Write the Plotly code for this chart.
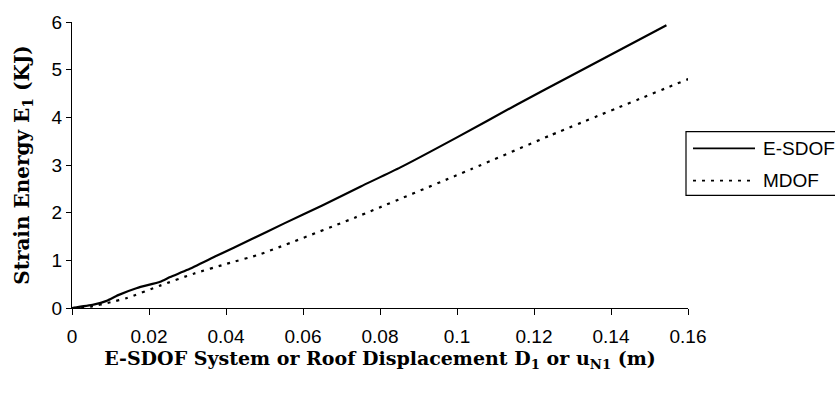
import plotly.graph_objects as go

# Data
esdof_x = [0, 0.0056, 0.009, 0.012, 0.0169, 0.0229, 0.0255, 0.030, 0.0377, 0.0463,
           0.055, 0.065, 0.075, 0.0853, 0.100, 0.1156, 0.130, 0.1544]
esdof_y = [0, 0.07, 0.15, 0.27, 0.42, 0.55, 0.65, 0.80, 1.10, 1.43,
           1.77, 2.15, 2.55, 2.95, 3.58, 4.27, 4.89, 5.93]

mdof_x = [0, 0.005, 0.0100, 0.0143, 0.0229, 0.0316, 0.0403, 0.0489, 0.0736, 0.1039, 0.1242, 0.1606]
mdof_y = [0, 0.03, 0.12, 0.21, 0.47, 0.72, 0.93, 1.13, 1.90, 2.92, 3.62, 4.82]

x_ticks = [0, 0.02, 0.04, 0.06, 0.08, 0.1, 0.12, 0.14, 0.16]
x_tick_text = ["0", "0.02", "0.04", "0.06", "0.08", "0.1", "0.12", "0.14", "0.16"]
y_ticks = [0, 1, 2, 3, 4, 5, 6]

series_names = ["E-SDOF", "MDOF"]

fig = go.Figure()
fig.add_trace(go.Scatter(x=esdof_x, y=esdof_y, mode="lines", name=series_names[0],
                         line=dict(color="black", width=2.2, shape="spline", smoothing=0.5),
                         showlegend=False))
fig.add_trace(go.Scatter(x=mdof_x, y=mdof_y, mode="lines", name=series_names[1],
                         line=dict(color="black", width=2.2, dash="3px,6px", shape="spline", smoothing=0.5),
                         showlegend=False))

tick_font = dict(family="Liberation Sans, Arial, sans-serif", size=19, color="black")

fig.update_layout(
    width=835, height=394,
    margin=dict(l=72, r=147, t=16, b=86),
    paper_bgcolor="white", plot_bgcolor="white",
    xaxis=dict(range=[0, 0.16], tickvals=x_ticks, ticktext=x_tick_text,
               showgrid=False, zeroline=False, showline=True, linecolor="black", linewidth=1.2,
               ticks="outside", ticklen=6, tickcolor="black", tickwidth=1.2,
               tickfont=tick_font, ticklabelstandoff=5,
               title=dict(text="<b>E-SDOF System or Roof Displacement D<sub>1</sub> or u<sub>N1</sub> (m)</b>",
                          font=dict(family="DejaVu Serif, serif", size=19, color="black"), standoff=3)),
    yaxis=dict(range=[0, 6], tickvals=y_ticks,
               showgrid=False, zeroline=False, showline=True, linecolor="black", linewidth=1.2,
               ticks="outside", ticklen=5, tickcolor="black", tickwidth=1.2,
               tickfont=tick_font,
               title=dict(text="<b>Strain Energy E<sub>1</sub> (KJ)</b>",
                          font=dict(family="DejaVu Serif, serif", size=20, color="black"), standoff=16)),
    xaxis2=dict(range=[0, 0.16], tickvals=x_ticks, overlaying="x", matches="x",
                showgrid=False, zeroline=False, showline=False, showticklabels=False,
                ticks="inside", ticklen=5, tickcolor="black", tickwidth=1.2, side="bottom",
                anchor="y"),
    showlegend=False,
)

# Manual legend box (paper coordinates)
def px_to_paper_x(px):
    return (px - 72) / 616.0

def py_to_paper_y(py):
    return (308 - py) / 292.0

fig.add_shape(type="rect", xref="paper", yref="paper",
              x0=px_to_paper_x(686), x1=px_to_paper_x(845),
              y0=py_to_paper_y(193), y1=py_to_paper_y(128),
              line=dict(color="black", width=1.2), fillcolor="white", layer="above")
legend_rows = [(series_names[0], 145, "solid"), (series_names[1], 178, "3px,6px")]
for name, py, dash in legend_rows:
    fig.add_shape(type="line", xref="paper", yref="paper",
                  x0=px_to_paper_x(693), x1=px_to_paper_x(755),
                  y0=py_to_paper_y(py), y1=py_to_paper_y(py),
                  line=dict(color="black", width=1.8, dash=dash), layer="above")
    fig.add_annotation(text=name, xref="paper", yref="paper",
                       x=px_to_paper_x(761), y=py_to_paper_y(py),
                       xanchor="left", yanchor="middle", showarrow=False,
                       font=dict(family="Liberation Sans, Arial, sans-serif", size=19, color="black"))

fig.write_html("out.html")
